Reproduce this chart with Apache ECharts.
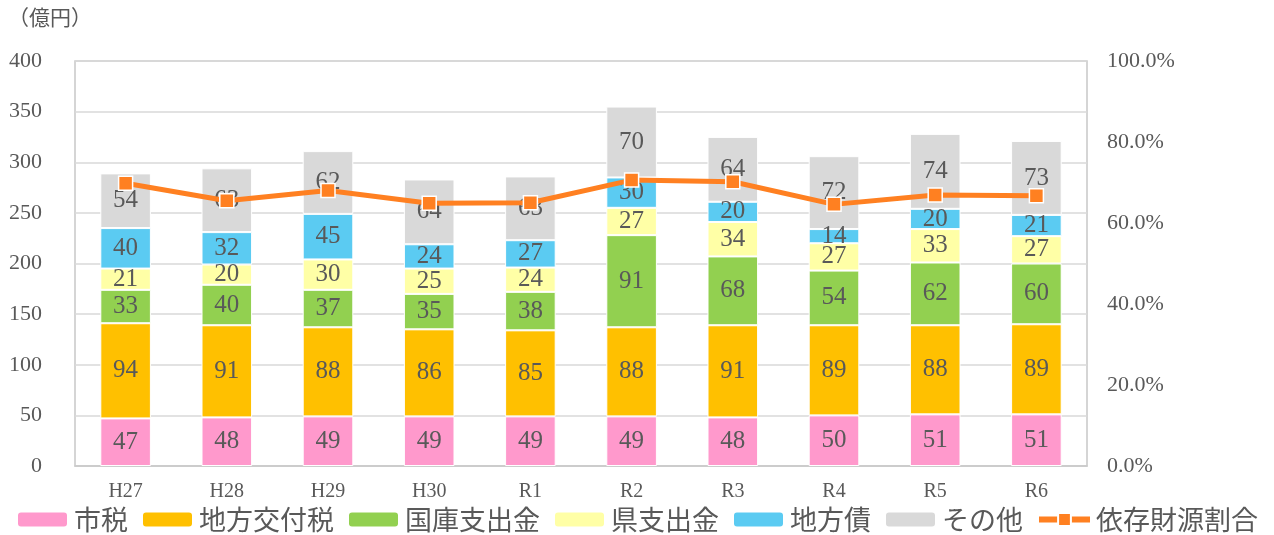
<!DOCTYPE html>
<html><head><meta charset="utf-8">
<script src="https://cdn.jsdelivr.net/npm/echarts@6/dist/echarts.min.js"></script>
<style>html,body{margin:0;padding:0;background:#fff}#c{width:1274px;height:535px}</style>
</head><body><div id="c"></div>
<script>
const categories = ['H27','H28','H29','H30','R1','R2','R3','R4','R5','R6'];
const shizei = [47,48,49,49,49,49,48,50,51,51];
const kofuzei = [94,91,88,86,85,88,91,89,88,89];
const kokko = [33,40,37,35,38,91,68,54,62,60];
const kenshishutsu = [21,20,30,25,24,27,34,27,33,27];
const chihosai = [40,32,45,24,27,30,20,14,20,21];
const sonota = [54,63,62,64,63,70,64,72,74,73];
const izonRatio = [69.8,65.5,68.0,64.9,65.0,70.6,70.2,64.6,66.9,66.7];
const leftTicks = {min:0, max:400, interval:50};
const rightTicks = {min:0, max:100, interval:20};

const numFont = '"Liberation Serif", serif';
const jpFont = '"Noto Sans CJK JP", sans-serif';
const txt = '#595959';

function barSeries(name, data, color){
  return {
    name, type:'bar', stack:'total', data, barWidth:'50%',
    itemStyle:{color, borderColor:'#ffffff', borderWidth:1},
    label:{show:true, position:'inside', color:txt, fontFamily:numFont, fontSize:25},
    emphasis:{disabled:true}
  };
}

const chart = echarts.init(document.getElementById('c'), null, {renderer:'canvas'});
chart.setOption({
  animation:false,
  textStyle:{fontFamily:jpFont},
  graphic:[{type:'text', left:8, top:7, style:{text:'（億円）', font:'21px "Noto Sans CJK JP"', fill:txt}}],
  grid:{left:75, right:187, top:61, bottom:69, show:true, borderColor:'#c8c8c8', borderWidth:1.5},
  legend:{
    left:'center', bottom:-3, itemWidth:51, itemHeight:16, itemGap:13,
    textStyle:{fontFamily:jpFont, fontSize:27, color:txt, padding:[0,0,0,1]},
    data:['市税','地方交付税','国庫支出金','県支出金','地方債','その他',
      {name:'依存財源割合', lineStyle:{width:6}}]
  },
  xAxis:{
    type:'category', data:categories,
    axisLine:{lineStyle:{color:'#c8c8c8', width:1.5}}, axisTick:{show:false},
    axisLabel:{color:txt, fontFamily:numFont, fontSize:20, margin:16}
  },
  yAxis:[
    {type:'value', min:leftTicks.min, max:leftTicks.max, interval:leftTicks.interval,
     axisLine:{show:false}, axisTick:{show:false},
     splitLine:{lineStyle:{color:'#d9d9d9', width:1.5}},
     axisLabel:{color:txt, fontFamily:numFont, fontSize:22, margin:33}},
    {type:'value', min:rightTicks.min, max:rightTicks.max, interval:rightTicks.interval,
     axisLine:{show:false}, axisTick:{show:false}, splitLine:{show:false},
     axisLabel:{color:txt, fontFamily:numFont, fontSize:22, margin:20, formatter:v=>v.toFixed(1)+'%'}}
  ],
  series:[
    barSeries('市税', shizei, '#FF99CC'),
    barSeries('地方交付税', kofuzei, '#FFC000'),
    barSeries('国庫支出金', kokko, '#92D050'),
    barSeries('県支出金', kenshishutsu, '#FFFFA6'),
    barSeries('地方債', chihosai, '#5BCBF2'),
    barSeries('その他', sonota, '#D9D9D9'),
    {name:'依存財源割合', type:'line', yAxisIndex:1, data:izonRatio,
     symbol:'rect', symbolSize:14,
     lineStyle:{color:'#FF8021', width:5},
     itemStyle:{color:'#FF8021', borderColor:'#ffffff', borderWidth:1.5},
     emphasis:{disabled:true}, z:10}
  ]
});
</script></body></html>
